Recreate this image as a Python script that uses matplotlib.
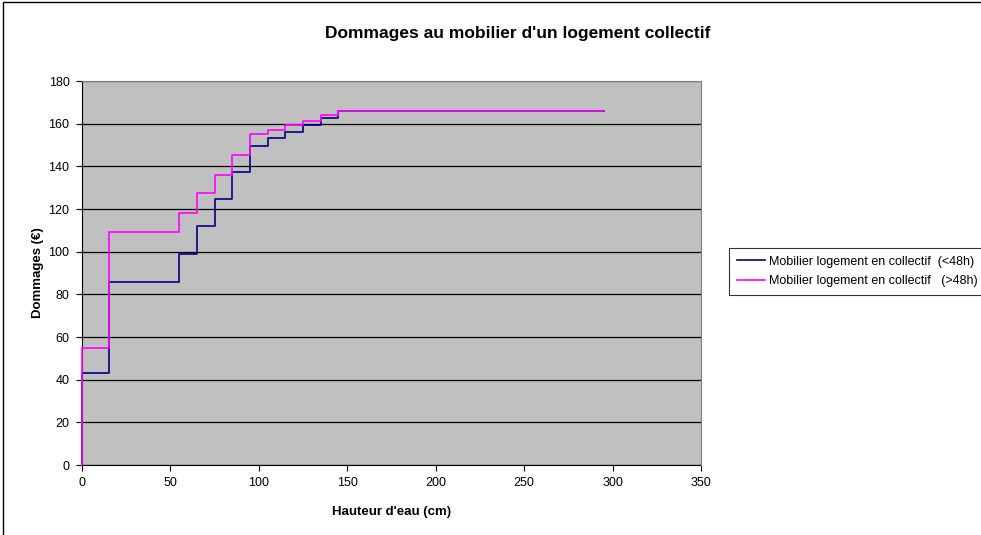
import numpy as np
import matplotlib.pyplot as plt
from matplotlib.patches import Rectangle

plt.rcParams['font.family'] = ['Liberation Sans', 'DejaVu Sans']

# Hauteurs d'eau (cm) aux paliers de la courbe
hauteur = [0, 0, 15, 55, 65, 75, 85, 95, 105, 115, 125, 135, 145, 295]

# Dommages (€) pour chaque palier
dommages_moins48 = [0, 43, 86, 99, 112, 124.5, 137.5, 149.5, 153.3, 156.3, 159.4, 162.5, 166, 166]
dommages_plus48 = [0, 55, 109, 118, 127.5, 136, 145.5, 155, 157, 159.5, 161.3, 164, 166, 166]

labels = ["Mobilier logement en collectif  (<48h)",
          "Mobilier logement en collectif   (>48h)"]

fig = plt.figure(figsize=(9.81, 5.35), dpi=100)
ax = fig.add_axes([82 / 981, 70 / 535, 619 / 981, 384 / 535])

ax.set_facecolor('#C0C0C0')
ax.plot(hauteur, dommages_moins48, drawstyle='steps-post', color='#000080',
        lw=1.2, label=labels[0], clip_on=False, zorder=3)
ax.plot(hauteur, dommages_plus48, drawstyle='steps-post', color='#FF00FF',
        lw=1.2, label=labels[1], clip_on=False, zorder=3)

ax.set_xlim(0, 350)
ax.set_ylim(0, 180)
ax.set_xticks(np.arange(0, 351, 50))
ax.set_yticks(np.arange(0, 181, 20))
ax.yaxis.grid(True, color='black', lw=0.9)
ax.set_axisbelow(True)
ax.tick_params(labelsize=9, length=4, width=0.8, color='black', pad=5)

for side in ['top', 'right']:
    ax.spines[side].set_color('#808080')
for side in ['left', 'bottom']:
    ax.spines[side].set_color('black')
    ax.spines[side].set_zorder(2)

ax.set_title("Dommages au mobilier d'un logement collectif", fontsize=12.5,
             fontweight='bold', x=(518 - 82) / 619, y=1.0, pad=31)
ax.set_xlabel("Hauteur d'eau (cm)", fontsize=9.5, fontweight='bold', labelpad=12)
ax.set_ylabel("Dommages (€)", fontsize=9.5, fontweight='bold', labelpad=3)

leg = fig.legend(loc='upper left', bbox_to_anchor=(729 / 981, 1 - 248 / 535),
                 fontsize=9, frameon=True, fancybox=False, edgecolor='black',
                 handlelength=2.3, handletextpad=0.3, borderpad=0.6,
                 labelspacing=0.6, borderaxespad=0)
leg.get_frame().set_linewidth(0.8)

# cadre du graphique
fig.patches.append(Rectangle((3 / 981, -0.2), 1.2, 1.2 - 2 / 535,
                             transform=fig.transFigure, fill=False,
                             edgecolor='black', lw=1.0))

fig.savefig('out.png', dpi=100)
